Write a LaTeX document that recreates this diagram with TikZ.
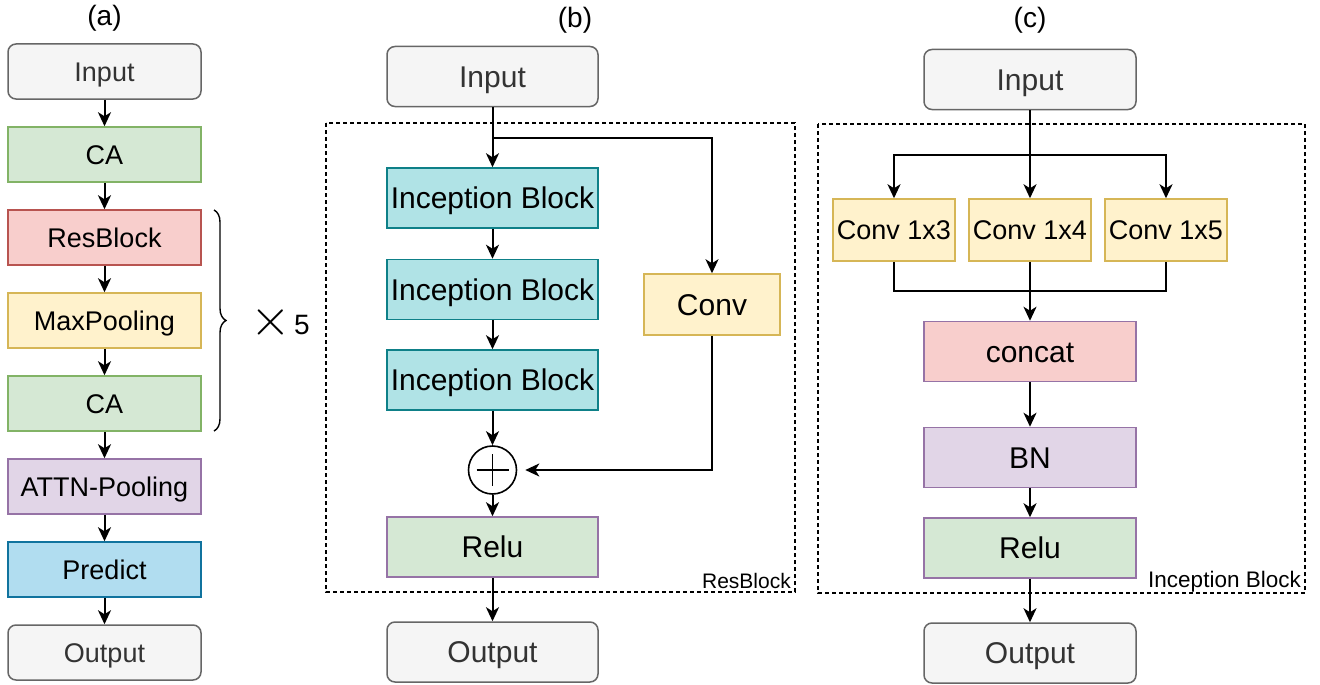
\documentclass[tikz,border=0pt]{standalone}
\usepackage{fontspec}
\setmainfont{Liberation Sans}
\usetikzlibrary{arrows.meta,positioning,decorations.pathreplacing}
\definecolor{IoFill}{HTML}{F5F5F5}
\definecolor{IoLine}{HTML}{666666}
\definecolor{IoText}{HTML}{333333}
\definecolor{CaFill}{HTML}{D5E8D4}
\definecolor{CaLine}{HTML}{82B366}
\definecolor{ResFill}{HTML}{F8CECC}
\definecolor{ResLine}{HTML}{B85450}
\definecolor{PoolFill}{HTML}{FFF2CC}
\definecolor{PoolLine}{HTML}{D6B656}
\definecolor{AttnFill}{HTML}{E1D5E7}
\definecolor{AttnLine}{HTML}{9673A6}
\definecolor{PredFill}{HTML}{B1DDF0}
\definecolor{PredLine}{HTML}{10739E}
\definecolor{IncFill}{HTML}{B0E3E6}
\definecolor{IncLine}{HTML}{0E8088}

\begin{document}
\begin{tikzpicture}[x=1pt,y=-1pt,>={Stealth[length=14pt,width=13pt,inset=4pt]},
    blk/.style={draw,line width=1.5pt,inner sep=0pt,minimum width=193pt,minimum height=55pt,
      text height=19.4pt,text depth=0pt,font=\fontsize{27}{27}\selectfont},
    io/.style={blk,rounded corners=8pt,fill=IoFill,draw=IoLine,text=IoText},
    sizeb/.style={minimum width=211pt,minimum height=60pt,text height=21.5pt,
      font=\fontsize{30}{30}\selectfont},
    sizek/.style={minimum width=122pt,minimum height=62pt,text height=19.4pt,
      font=\fontsize{27}{27}\selectfont},
    wire/.style={line width=2pt},
    frame/.style={dashed,dash pattern=on 4pt off 3pt,line width=1.4pt}]
  \useasboundingbox (0,0) rectangle (1320,685);

  % (a) whole network
  \node[font=\fontsize{28}{28}\selectfont] (ta) at (104.5,18) {(a)};
  \node[io] (ina) at (104.5,71.5) {Input};
  \node[blk,fill=CaFill,draw=CaLine] (ca1) at (104.5,154.5) {CA};
  \node[blk,fill=ResFill,draw=ResLine] (res) at (104.5,237.5) {ResBlock};
  \node[blk,fill=PoolFill,draw=PoolLine] (pool) at (104.5,320.5) {MaxPooling};
  \node[blk,fill=CaFill,draw=CaLine] (ca2) at (104.5,403.5) {CA};
  \node[blk,fill=AttnFill,draw=AttnLine] (attn) at (104.5,486.5) {ATTN-Pooling};
  \node[blk,fill=PredFill,draw=PredLine] (pred) at (104.5,569.5) {Predict};
  \node[io] (outa) at (104.5,652.5) {Output};
  \foreach \s/\t in {ina/ca1,ca1/res,res/pool,pool/ca2,ca2/attn,attn/pred,pred/outa}
    \draw[wire,->] (\s) -- (\t);
  \draw[decorate,decoration={brace,amplitude=12pt},line width=1.4pt] (214,210) -- (214,431);
  \node[font=\fontsize{28}{28}\selectfont] (rep) at (280,322) {\raisebox{-1pt}{\scalebox{2.1}{$\times$}}\hspace{3pt}5};

  % (b) ResBlock
  \node[font=\fontsize{28}{28}\selectfont] (tb) at (575,20) {(b)};
  \node[io,sizeb] (inb) at (492.5,76.5) {Input};
  \node[blk,fill=IncFill,draw=IncLine,sizeb] (inc1) at (492.5,198) {Inception Block};
  \node[blk,fill=IncFill,draw=IncLine,sizeb] (inc2) at (492.5,289.5) {Inception Block};
  \node[blk,fill=IncFill,draw=IncLine,sizeb] (inc3) at (492.5,380) {Inception Block};
  \node[blk,fill=CaFill,draw=AttnLine,sizeb] (relub) at (492.5,547) {Relu};
  \node[io,sizeb] (outb) at (492.5,652) {Output};
  \node[blk,fill=PoolFill,draw=PoolLine,sizeb,minimum width=136pt,minimum height=61pt] (conv) at (712,304.5) {Conv};
  \node[draw,circle,line width=1.6pt,minimum size=48pt,inner sep=0pt] (plus) at (492.5,470) {};
  \draw[line width=1.6pt] (476.5,470) -- (508.5,470) (492.5,454) -- (492.5,486);
  \coordinate (bsplit) at (492.5,138);
  \draw[wire,->] (inb) -- (inc1);
  \draw[wire,->] (bsplit) -| (conv);
  \draw[wire,->] (inc1) -- (inc2);
  \draw[wire,->] (inc2) -- (inc3);
  \draw[wire,->] (inc3) -- (plus);
  \draw[wire,->,shorten >=8pt] (conv) |- (plus);
  \draw[wire,->] (plus) -- (relub);
  \draw[wire,->] (relub) -- (outb);
  \draw[frame] (326,123) rectangle (795,592);
  \node[anchor=south east,inner sep=2pt,font=\fontsize{21}{21}\selectfont] (lres) at (793,591) {ResBlock};

  % (c) Inception Block
  \node[font=\fontsize{28}{28}\selectfont] (tc) at (1030,20) {(c)};
  \node[io,sizeb,minimum width=212pt] (inc) at (1030,79.5) {Input};
  \node[blk,fill=PoolFill,draw=PoolLine,sizek] (k3) at (894,230) {Conv 1x3};
  \node[blk,fill=PoolFill,draw=PoolLine,sizek] (k4) at (1030,230) {Conv 1x4};
  \node[blk,fill=PoolFill,draw=PoolLine,sizek] (k5) at (1166,230) {Conv 1x5};
  \node[blk,fill=ResFill,draw=AttnLine,sizeb,minimum width=212pt] (cat) at (1030,351.5) {concat};
  \node[blk,fill=AttnFill,draw=AttnLine,sizeb,minimum width=212pt] (bn) at (1030,457.5) {BN};
  \node[blk,fill=CaFill,draw=AttnLine,sizeb,minimum width=212pt] (reluc) at (1030,548) {Relu};
  \node[io,sizeb,minimum width=212pt] (outc) at (1030,653) {Output};
  \coordinate (csplit) at (1030,155);
  \coordinate (cmerge) at (1030,291);
  \draw[wire,->] (inc) -- (k4);
  \draw[wire,->] (csplit) -| (k3);
  \draw[wire,->] (csplit) -| (k5);
  \draw[wire] (k3) |- (cmerge) -| (k5);
  \draw[wire,->] (k4) -- (cat);
  \draw[wire,->] (cat) -- (bn);
  \draw[wire,->] (bn) -- (reluc);
  \draw[wire,->] (reluc) -- (outc);
  \draw[frame] (818,124) rectangle (1305,593);
  \node[anchor=south east,inner sep=2pt,font=\fontsize{22.5}{22.5}\selectfont] (linc) at (1303,594) {Inception Block};
\end{tikzpicture}
\end{document}
